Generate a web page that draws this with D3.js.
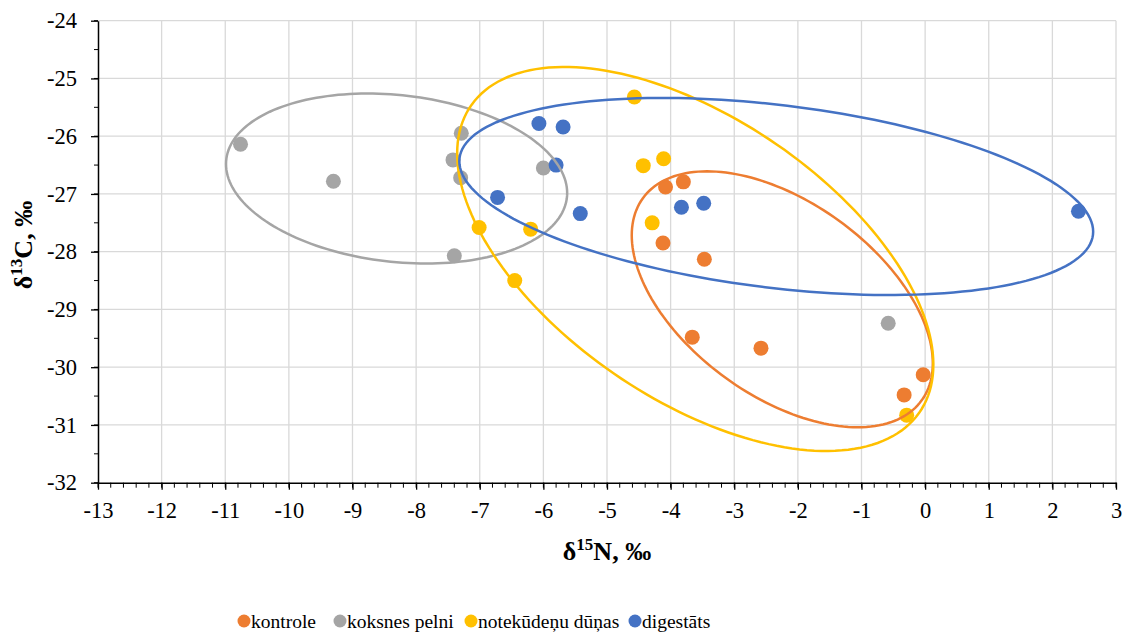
<!DOCTYPE html>
<html>
<head>
<meta charset="utf-8">
<script src="https://cdn.jsdelivr.net/npm/d3@7"></script>
<style>
  html, body { margin: 0; padding: 0; background: #fff; }
  svg { display: block; }
  svg text { font-family: "Liberation Serif", "Times New Roman", Times, "DejaVu Serif", serif; }
</style>
</head>
<body>
<div id="chart"></div>
<script>
// series names + colours
const seriesNames = ["kontrole", "koksnes pelni", "notekūdeņu dūņas", "digestāts"];
const seriesColors = ["#ED7D31", "#A5A5A5", "#FFC000", "#4472C4"];

// d15N, d13C per series
const kontroleN = [-4.08, -3.80, -4.12, -3.47, -3.66, -2.58, -0.03, -0.33];
const kontroleC = [-26.88, -26.79, -27.85, -28.13, -29.48, -29.67, -30.13, -30.48];
const pelniN = [-10.76, -9.30, -7.29, -7.42, -7.30, -6.00, -7.40, -0.58];
const pelniC = [-26.14, -26.78, -25.95, -26.41, -26.72, -26.55, -28.07, -29.24];
const dunasN = [-4.57, -4.43, -4.11, -4.29, -0.29, -7.01, -6.20, -6.45];
const dunasC = [-25.32, -26.51, -26.39, -27.50, -30.83, -27.58, -27.61, -28.50];
const digestN = [-6.07, -5.69, -5.80, -6.72, -5.42, -3.83, -3.48, 2.41];
const digestC = [-25.78, -25.84, -26.50, -27.06, -27.34, -27.23, -27.16, -27.30];

// ellipses (data units): centre, half extents and correlation, same order as series
const ellCx = [-2.245, -8.307, -3.613, -2.34];
const ellCy = [-28.824, -26.733, -28.126, -27.044];
const ellRx = [2.366, 2.681, 3.742, 4.981];
const ellRy = [2.216, 1.472, 3.325, 1.706];
const ellR  = [-0.50, -0.17, -0.55, -0.357];

const xTicks = d3.range(-13, 4, 1);
const yTicks = d3.range(-32, -23, 1);

const allN = [kontroleN, pelniN, dunasN, digestN];
const allC = [kontroleC, pelniC, dunasC, digestC];

const FONT = '"Liberation Serif", "Times New Roman", Times, "DejaVu Serif", serif';

const W = 1123, H = 632;
const margin = {top: 20.7, left: 98, right: 7, bottom: 149.3};
const width = W - margin.left - margin.right,
      height = H - margin.top - margin.bottom;

const x = d3.scaleLinear().domain([-13, 3]).range([0, width]);
const y = d3.scaleLinear().domain([-32, -24]).range([height, 0]);

const svg = d3.select("#chart").append("svg")
    .attr("width", W)
    .attr("height", H)
    .attr("font-family", FONT);

const g = svg.append("g")
    .attr("transform", "translate(" + margin.left + "," + margin.top + ")");

// grid
g.append("g")
  .selectAll("line")
  .data(xTicks.slice(1))
  .join("line")
    .attr("x1", d => x(d)).attr("x2", d => x(d))
    .attr("y1", 0).attr("y2", height)
    .style("stroke", "#d9d9d9").style("stroke-width", 1.3);

g.append("g")
  .selectAll("line")
  .data(yTicks.slice(1))
  .join("line")
    .attr("x1", 0).attr("x2", width)
    .attr("y1", d => y(d)).attr("y2", d => y(d))
    .style("stroke", "#d9d9d9").style("stroke-width", 1.3);

// minor ticks
const xMinor = d3.range(-13, 3.001, 0.2);
g.append("g")
  .selectAll("line")
  .data(xMinor)
  .join("line")
    .attr("x1", d => x(d)).attr("x2", d => x(d))
    .attr("y1", height).attr("y2", height + 5)
    .style("stroke", "#000").style("stroke-width", 1);

const yMinor = d3.range(-32, -23.99, 0.5);
g.append("g")
  .selectAll("line")
  .data(yMinor)
  .join("line")
    .attr("x1", -4).attr("x2", 0)
    .attr("y1", d => y(d)).attr("y2", d => y(d))
    .style("stroke", "#000").style("stroke-width", 1);

// axes
const xAxis = g.append("g")
    .attr("transform", "translate(0," + height + ")")
    .call(d3.axisBottom(x).tickValues(xTicks).tickSize(7).tickSizeOuter(0).tickPadding(12).tickFormat(d3.format("d")));
const yAxis = g.append("g")
    .call(d3.axisLeft(y).tickValues(yTicks).tickSize(7).tickSizeOuter(0).tickPadding(14).tickFormat(d3.format("d")));

[xAxis, yAxis].forEach(a => {
  a.attr("font-family", FONT).attr("font-size", 22.5);
  a.select(".domain").style("stroke", "#000").style("stroke-width", 1.5);
  a.selectAll(".tick line").style("stroke", "#000").style("stroke-width", 1.3);
  a.selectAll(".tick text")
    .style("fill", "#000")
    .text(d => d < 0 ? "-" + Math.abs(d) : d);
});

// points
seriesNames.forEach((name, i) => {
  g.append("g")
    .selectAll("circle")
    .data(allN[i].map((n, k) => [n, allC[i][k]]))
    .join("circle")
      .attr("cx", d => x(d[0]))
      .attr("cy", d => y(d[1]))
      .attr("r", 7.5)
      .style("fill", seriesColors[i]);
});

// ellipses on top
const ellLine = d3.line().curve(d3.curveLinearClosed);
[1, 0, 2, 3].forEach(i => {
  const pts = d3.range(0, 2 * Math.PI, Math.PI / 90).map(t => {
    const dx = ellRx[i] * Math.cos(t);
    const dy = ellRy[i] * (ellR[i] * Math.cos(t) + Math.sqrt(1 - ellR[i] * ellR[i]) * Math.sin(t));
    return [x(ellCx[i] + dx), y(ellCy[i] + dy)];
  });
  g.append("path")
    .attr("d", ellLine(pts))
    .style("fill", "none")
    .style("stroke", seriesColors[i])
    .style("stroke-width", 2.5);
});

// axis titles
const xt = svg.append("text")
    .attr("x", 607).attr("y", 560)
    .attr("text-anchor", "middle")
    .style("font-size", "26px").style("font-weight", "bold");
xt.append("tspan").text("δ");
xt.append("tspan").attr("dy", -10).style("font-size", "17px").text("15");
xt.append("tspan").attr("dy", 10).text("N, ‰");

const yt = svg.append("text")
    .attr("transform", "translate(32,245) rotate(-90)")
    .attr("text-anchor", "middle")
    .style("font-size", "26px").style("font-weight", "bold");
yt.append("tspan").text("δ");
yt.append("tspan").attr("dy", -10).style("font-size", "17px").text("13");
yt.append("tspan").attr("dy", 10).text("C, ‰");

// legend
const legendX = [244, 340, 471, 635];
const leg = svg.append("g");
seriesNames.forEach((name, i) => {
  leg.append("circle")
    .attr("cx", legendX[i]).attr("cy", 621).attr("r", 6.5)
    .style("fill", seriesColors[i]);
  leg.append("text")
    .attr("x", legendX[i] + 7).attr("y", 628)
    .style("font-size", "19.5px")
    .text(name);
});
</script>
</body>
</html>
